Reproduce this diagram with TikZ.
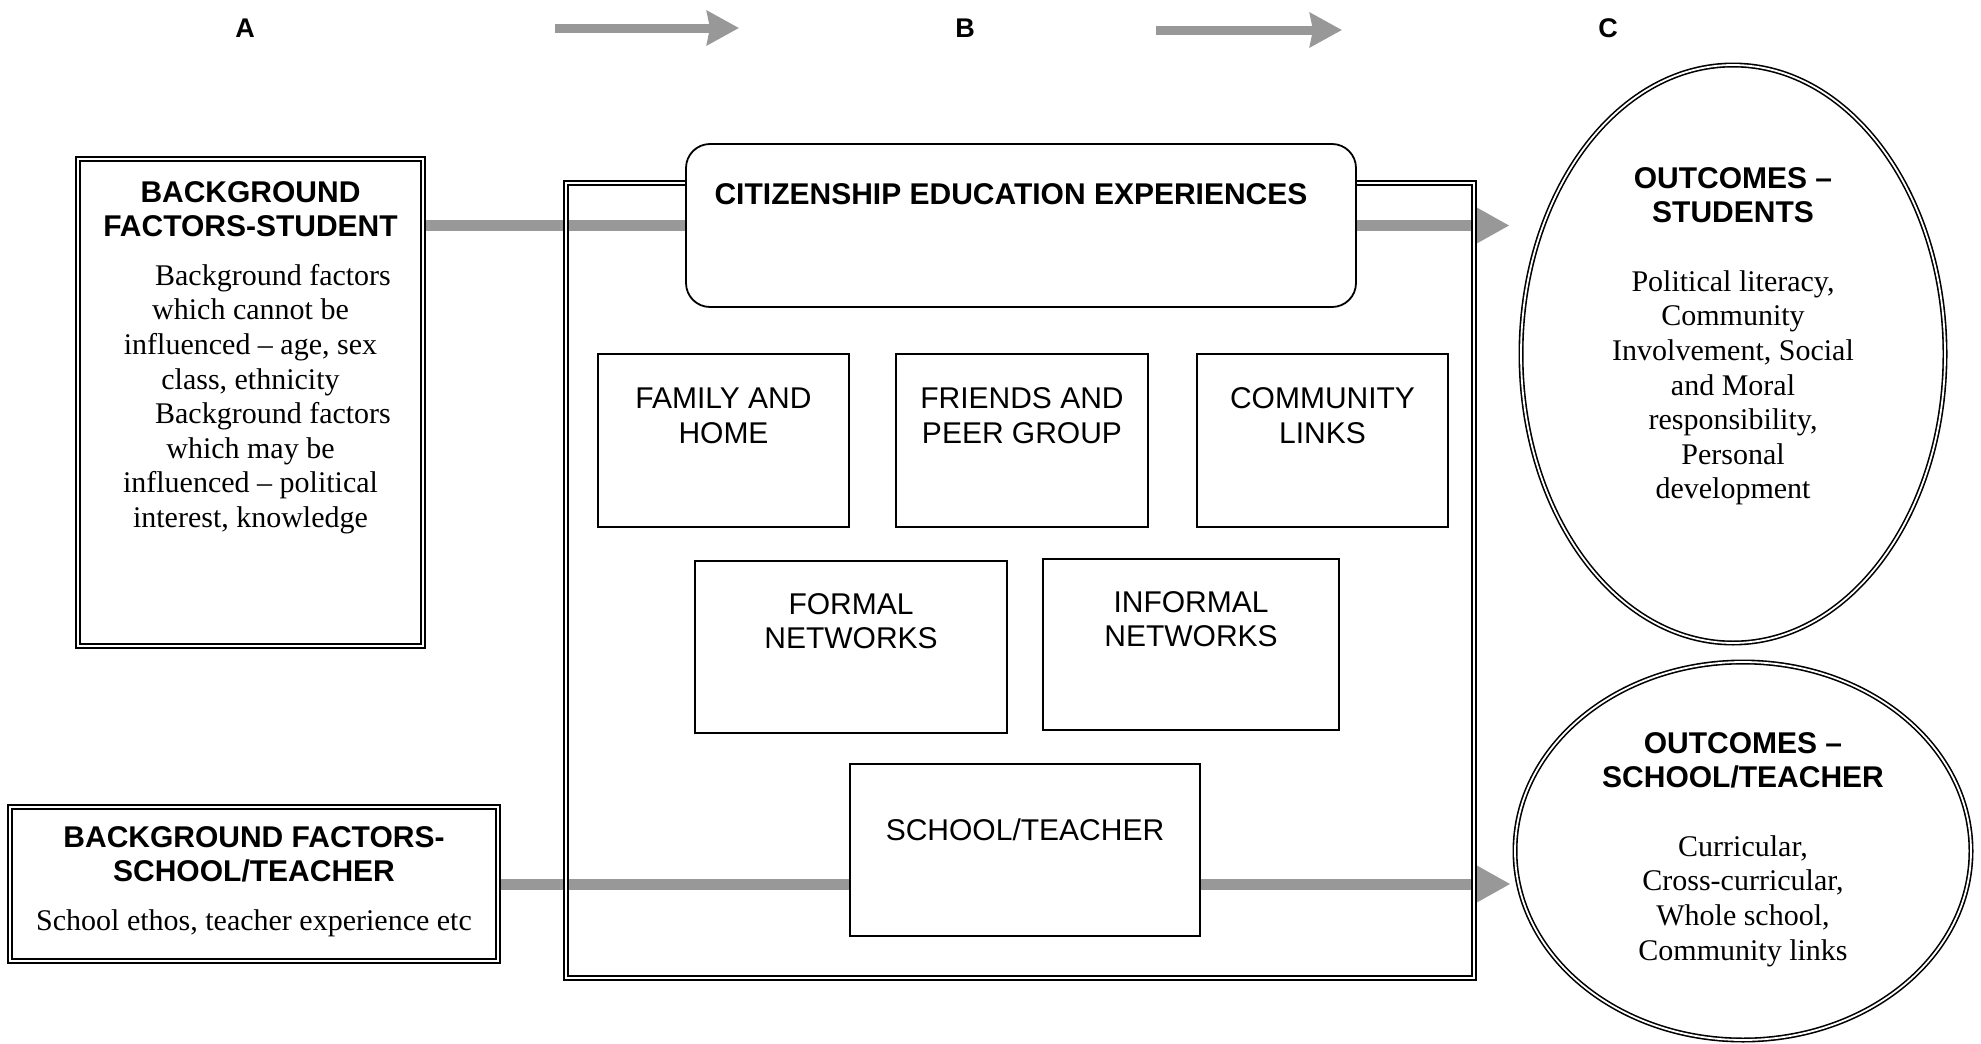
\documentclass[tikz,border=0pt]{standalone}
\usepackage{fontspec}
\setmainfont{Liberation Serif}
\setsansfont{Liberation Sans}
\usepackage{tikz}
\usetikzlibrary{shapes.geometric,arrows.meta,backgrounds}
\definecolor{flowgray}{RGB}{152,152,152}
\newcommand{\hd}[1]{{\sffamily\bfseries #1}}
\tikzstyle{lbl}=[font=\sffamily\bfseries\fontsize{13.5}{15}\selectfont]
\tikzstyle{dbox}=[rectangle, draw, double, double distance=1.2pt, line width=0.9pt, inner sep=0pt, align=center, font=\fontsize{15}{17.3}\selectfont]
\tikzstyle{outer}=[rectangle, draw, double, double distance=1.2pt, line width=0.9pt, inner sep=0pt]
\tikzstyle{rbox}=[rectangle, rounded corners=12pt, draw, line width=0.9pt, fill=white, inner sep=0pt, font=\sffamily\bfseries\fontsize{15}{17.3}\selectfont]
\tikzstyle{sbox}=[rectangle, draw, line width=0.8pt, fill=white, inner sep=0pt, align=center, text height=44.5pt, text depth=42pt, font=\sffamily\fontsize{15}{17.3}\selectfont]
\tikzstyle{oval}=[ellipse, draw, double, double distance=0.9pt, line width=0.8pt, inner sep=0pt, align=center, font=\fontsize{15}{17.3}\selectfont]
\tikzstyle{flow}=[line width=5.5pt, draw=flowgray]
\tikzstyle{flowto}=[flow, -{Stealth[length=18.5pt, width=20pt, inset=2pt]}]
\tikzstyle{stagearrow}=[line width=4.5pt, draw=flowgray, -{Stealth[length=16pt, width=17pt, inset=1.5pt]}]

\begin{document}
\begin{tikzpicture}[x=0.5pt, y=-0.5pt]
				\useasboundingbox (0,0) rectangle (1981,1044);
				
				%The stages
				\draw (245,28) node[lbl] (A) {A};
				\draw (965,28) node[lbl] (B) {B};
				\draw (1608,28) node[lbl] (C) {C};
				\coordinate (ab1) at (555,28);
				\coordinate (ab2) at (739,28);
				\coordinate (bc1) at (1156,30);
				\coordinate (bc2) at (1342,30);
				\draw[stagearrow] (ab1) -- (ab2);
				\draw[stagearrow] (bc1) -- (bc2);
				
				%The background factors
				\draw (250.5,402.5) node[dbox, minimum width=172.5pt, text height=184.2pt, text depth=59.3pt] (stbox) {\hd{BACKGROUND}\\ \hd{FACTORS-STUDENT}\\[7pt]
					\hspace*{1.5em}Background factors\\ which cannot be\\ influenced – age, sex\\ class, ethnicity\\
					\hspace*{1.5em}Background factors\\ which may be\\ influenced – political\\ interest, knowledge};
				\draw (254,884) node[dbox, minimum width=244pt, text height=61.6pt, text depth=15.4pt] (bgbox) {\hd{BACKGROUND FACTORS-}\\ \hd{SCHOOL/TEACHER}\\[7pt] School ethos, teacher experience etc};
				
				%The experiences
				\draw (1020,580.5) node[outer, minimum width=454pt, minimum height=397.5pt] (frame) {};
				\draw (1021,225.5) node[rbox, minimum width=335pt, text height=30pt, text depth=51.5pt] (exp) {CITIZENSHIP EDUCATION EXPERIENCES\hspace*{10pt}};
				\draw (723.5,440.5) node[sbox, minimum width=125.5pt] (family) {FAMILY AND\\ HOME};
				\draw (1022,440.5) node[sbox, minimum width=126pt] (friends) {FRIENDS AND\\ PEER GROUP};
				\draw (1322.5,440.5) node[sbox, minimum width=125.5pt] (community) {COMMUNITY\\ LINKS};
				\draw (851,647) node[sbox, minimum width=156pt, text height=43.8pt] (formal) {FORMAL\\ NETWORKS};
				\draw (1191,644.5) node[sbox, minimum width=148pt, text height=43.8pt, text depth=41.7pt] (informal) {INFORMAL\\ NETWORKS};
				\draw (1025,850) node[sbox, minimum width=175pt, text height=38pt, text depth=48pt] (school) {SCHOOL/TEACHER};
				
				%The outcomes
				\draw (1733,354) node[oval, minimum width=212pt, minimum height=289pt, text height=164.8pt, text depth=20pt] (outst) {\hd{OUTCOMES –}\\ \hd{STUDENTS}\\[17pt]
					Political literacy,\\ Community\\ Involvement, Social\\ and Moral\\ responsibility,\\ Personal\\ development};
				\draw (1743,851) node[oval, minimum width=228pt, minimum height=189pt, text height=119pt, text depth=10pt] (outsch) {\hd{OUTCOMES –}\\ \hd{SCHOOL/TEACHER}\\[17pt]
					Curricular,\\ Cross-curricular,\\ Whole school,\\ Community links};
				
				%The flows
				\begin{scope}[on background layer]
				\draw[flow] (stbox.east |- exp.west) -- (exp.west);
				\draw[flowto] (exp.east) -- ([xshift=-5.5pt]outst.west |- exp.east);
				\draw[flow] (bgbox.east) -- (bgbox.east -| school.west);
				\draw[flowto] (school.east |- bgbox.east) -- ([xshift=-2pt]outsch.west |- bgbox.east);
				\end{scope}
			\end{tikzpicture}
\end{document}
